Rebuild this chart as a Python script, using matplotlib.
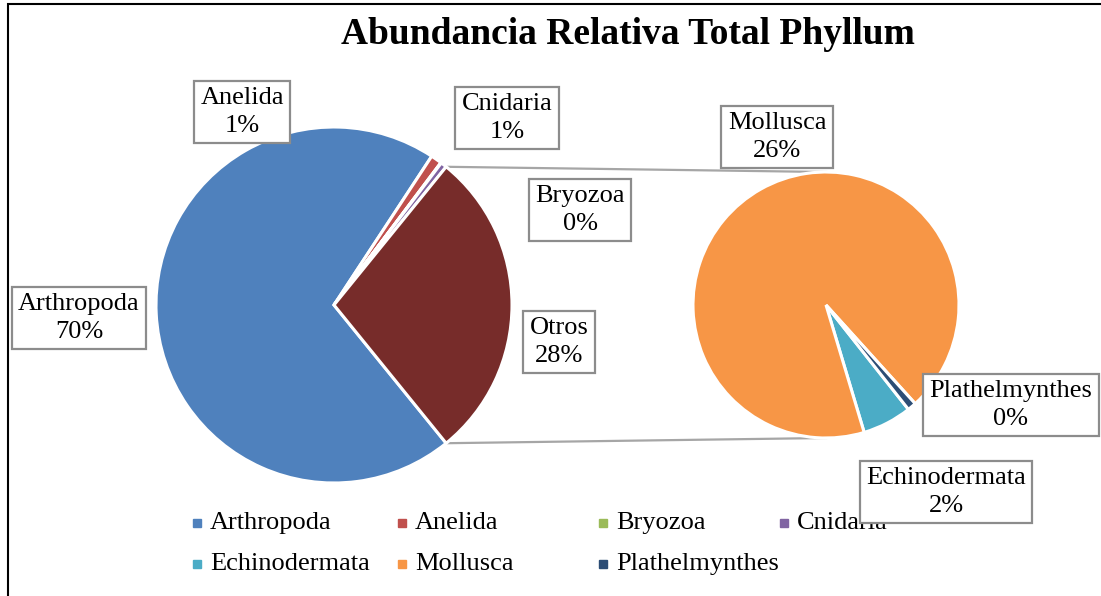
import matplotlib.pyplot as plt
from matplotlib.patches import Rectangle
import numpy as np

# data (percent of total)
phyla = ['Arthropoda', 'Anelida', 'Bryozoa', 'Cnidaria', 'Echinodermata', 'Mollusca', 'Plathelmynthes']
values = [70.1, 1.0, 0.05, 0.55, 1.7, 26.3, 0.3]
colors = ['#4F81BD', '#C0504D', '#9BBB59', '#8064A2', '#4BACC6', '#F79646', '#2C4D75']
otros_color = '#772C2A'

main_idx = [0, 1, 2, 3]
sub_idx = [4, 5, 6]
otros = sum(values[i] for i in sub_idx)

plt.rcParams['font.family'] = ['Liberation Serif', 'DejaVu Serif']

W, H = 1101, 596
fig = plt.figure(figsize=(W / 100, H / 100), dpi=100)
ax = fig.add_axes([0, 0, 1, 1])


def pct(v):
    return '%d%%' % int(v + 0.5)


# main pie
c1, r1 = (334, 291), 178
left_vals = [values[i] for i in main_idx] + [otros]
left_cols = [colors[i] for i in main_idx] + [otros_color]
start1 = -otros * 3.6 / 2
ax.pie(left_vals, colors=left_cols, startangle=start1, counterclock=False,
       center=c1, radius=r1, frame=True,
       wedgeprops=dict(edgecolor='white', linewidth=2.2))

# secondary pie
c2, r2 = (826, 291), 133
right_vals = [values[i] for i in sub_idx]
right_cols = [colors[i] for i in sub_idx]
ax.pie(right_vals, colors=right_cols, startangle=-51.7, counterclock=False,
       center=c2, radius=r2, frame=True,
       wedgeprops=dict(edgecolor='white', linewidth=2.2))
ax.set_xlim(0, W)
ax.set_ylim(0, H)
ax.axis('off')

# connector lines from the "Otros" wedge to the second pie
a = np.deg2rad(otros * 3.6 / 2)
p_top = (c1[0] + r1 * np.cos(a), c1[1] + r1 * np.sin(a))
p_bot = (c1[0] + r1 * np.cos(a), c1[1] - r1 * np.sin(a))
ax.plot([p_top[0], c2[0]], [p_top[1], c2[1] + r2], color='#a6a6a6', lw=1.6, zorder=0)
ax.plot([p_bot[0], c2[0]], [p_bot[1], c2[1] - r2], color='#a6a6a6', lw=1.6, zorder=0)

# data labels
label_pos = {
    'Arthropoda': (79, 318),
    'Anelida': (242, 112),
    'Bryozoa': (580, 210),
    'Cnidaria': (507, 118),
    'Echinodermata': (946, 492),
    'Mollusca': (777, 137),
    'Plathelmynthes': (1011, 405),
}
box = dict(boxstyle='square,pad=0.25', facecolor='white', edgecolor='#8c8c8c', linewidth=1.6)
for name, v in zip(phyla, values):
    x, y = label_pos[name]
    ax.text(x, H - y, name + '\n' + pct(v), ha='center', va='center', fontsize=19,
            linespacing=1.3, bbox=box, zorder=5)
ax.text(559, H - 342, 'Otros\n' + pct(otros), ha='center', va='center', fontsize=19,
        linespacing=1.3, bbox=box, zorder=5)

# title
ax.text(628, H - 35, 'Abundancia Relativa Total Phyllum', ha='center', va='center',
        fontsize=27, fontweight='bold')

# legend
leg_pos = [(197, 523), (402, 523), (603, 523), (784, 523),
           (197, 564), (402, 564), (603, 564)]
for name, col, (x, y) in zip(phyla, colors, leg_pos):
    ax.plot(x, H - y, marker='s', markersize=6, color=col, linestyle='none', zorder=1)
    ax.text(x + 13, H - y, name, ha='left', va='center', fontsize=19, zorder=1)

# outer frame
ax.add_patch(Rectangle((8, -20), W + 20, H - 4 + 20, fill=False, edgecolor='black',
                       linewidth=1.5, clip_on=False))

fig.savefig('out.png', dpi=100)
